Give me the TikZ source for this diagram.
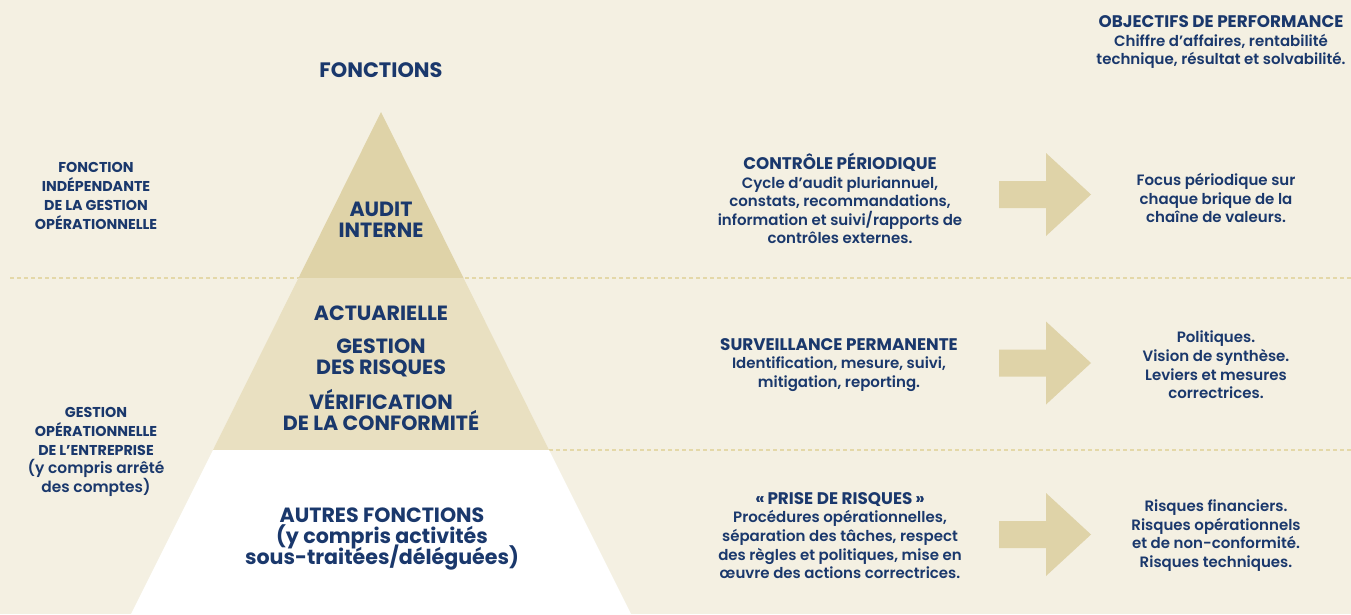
\documentclass[tikz,border=0pt]{standalone}
\usepackage{fontspec}
\setmainfont{Poppins}[UprightFont=* SemiBold, BoldFont=* Bold]
\definecolor{bg}{HTML}{F4F0E2}
\definecolor{tanA}{HTML}{DFD3A8}
\definecolor{tanB}{HTML}{E9E0C1}
\definecolor{dashc}{HTML}{E4D8A8}
\definecolor{navy}{HTML}{1A386C}
\newcommand{\tightlines}{\lineskiplimit-100pt\relax\lineskip0pt\relax}
\newcommand{\hd}[1]{{\bfseries\fontsize{16.8}{18.6}\selectfont #1}}
\newcommand{\lc}{\mdseries\fontsize{15.4}{18.8}\selectfont}
\tikzset{
  txt/.style={text=navy, align=center, inner sep=0pt, font=\fontsize{15}{18.6}\selectfont\tightlines},
  side/.style={text=navy, align=center, inner sep=0pt, font=\bfseries\fontsize{14.3}{18.8}\selectfont\tightlines},
  pyr/.style={text=navy, align=center, inner sep=0pt, font=\bfseries\fontsize{20.6}{21}\selectfont\tightlines},
  sep/.style={dashc, line width=1.2pt, dash pattern=on 4pt off 3pt},
  arrowfill/.style={fill=tanA}
}
\begin{document}
\begin{tikzpicture}[x=1pt,y=-1pt]
\fill[bg] (0,0) rectangle (1351,614);
\useasboundingbox (0,0) rectangle (1351,614);
% separators
\draw[sep] (10,278) -- (1351,278);
\draw[sep] (549,450) -- (1351,450);
% pyramid
\fill[tanA] (381,112) -- (463.5,278) -- (298.5,278) -- cycle;
\fill[tanB] (298.5,278) -- (463.5,278) -- (549,450) -- (213,450) -- cycle;
\fill[white] (213,450) -- (549,450) -- (631,614) -- (131,614) -- cycle;
% arrows
\foreach \n/\c in {a1/194.5, a2/363, a3/534.5}{
  \fill[arrowfill] (999,\c-13.5) -- (1046,\c-13.5) -- (1046,\c-41.5) -- (1091,\c) -- (1046,\c+41.5) -- (1046,\c+13.5) -- (999,\c+13.5) -- cycle;
}
% texts
\node[txt] (obj) at (1221,42) {\hd{OBJECTIFS DE PERFORMANCE}\\Chiffre d’affaires, rentabilité\\technique, résultat et solvabilité.};
\node[text=navy, inner sep=0pt, font=\bfseries\fontsize{20.9}{22}\selectfont] (fonc) at (381,70) {FONCTIONS};
\node[side] (indep) at (96,196) {FONCTION\\INDÉPENDANTE\\DE LA GESTION\\OPÉRATIONNELLE};
\node[side] (gestop) at (96,452) {GESTION\\OPÉRATIONNELLE\\DE L’ENTREPRISE\\\lc(y compris arrêté\\\lc des comptes)};
\node[pyr] (audit) at (381,219.5) {AUDIT\\INTERNE};
\node[pyr] (act) at (381,313) {ACTUARIELLE};
\node[pyr] (gdr) at (381,358) {GESTION\\DES RISQUES};
\node[pyr] (verif) at (381,410) {VÉRIFICATION\\DE LA CONFORMITÉ};
\node[pyr] (autres) at (382,539) {AUTRES FONCTIONS\\(y compris activités\\sous-traitées/déléguées)};
\node[txt] (ctrl) at (840,198.5) {\hd{CONTRÔLE PÉRIODIQUE}\\Cycle d’audit pluriannuel,\\constats, recommandations,\\information et suivi/rapports de\\contrôles externes.};
\node[txt] (focus) at (1216,198) {Focus périodique sur\\chaque brique de la\\chaîne de valeurs.};
\node[txt] (surv) at (839,365) {\hd{SURVEILLANCE PERMANENTE}\\Identification, mesure, suivi,\\mitigation, reporting.};
\node[txt] (pol) at (1216,365) {Politiques.\\Vision de synthèse.\\Leviers et mesures\\correctrices.};
\node[txt] (prise) at (840,535.5) {\hd{«\,PRISE DE RISQUES\,»}\\Procédures opérationnelles,\\séparation des tâches, respect\\des règles et politiques, mise en\\œuvre des actions correctrices.};
\node[txt] (risq) at (1216,535.5) {Risques financiers.\\Risques opérationnels\\et de non-conformité.\\Risques techniques.};
\end{tikzpicture}
\end{document}
